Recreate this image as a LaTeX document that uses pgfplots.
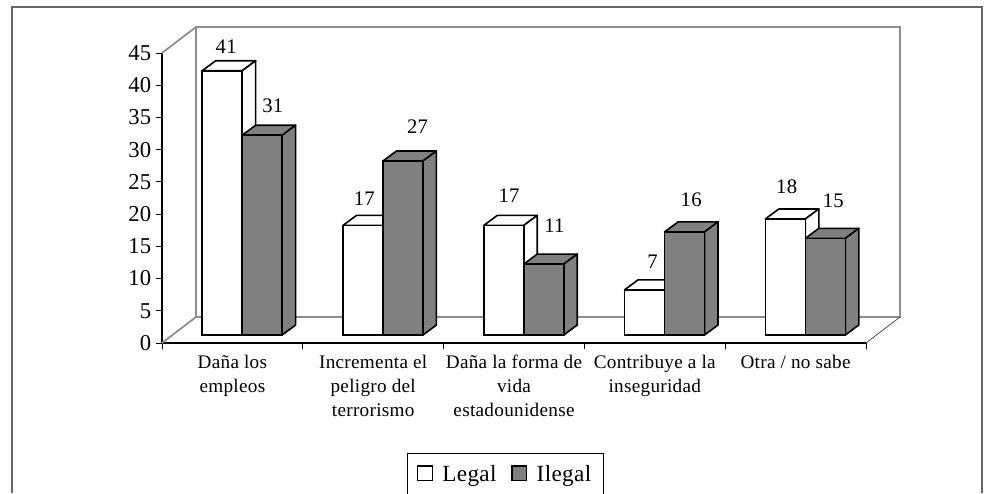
\documentclass[border=0pt]{standalone}
\usepackage{fontspec}
\setmainfont[LetterSpace=1.5]{Liberation Serif}
\usepackage{pgfplots}
\pgfplotsset{compat=1.18}

% 1 px of the reference = 0.75pt
\definecolor{barfill}{HTML}{808080}
\definecolor{wall}{HTML}{8C8C8C}

\newcommand{\depthfaces}[3]{%
  \pgfmathsetmacro{\xa}{#1}%
  \pgfmathsetmacro{\xb}{#1+0.2841}%
  \pgfmathsetmacro{\xc}{#1+0.0959}%
  \pgfmathsetmacro{\xd}{#1+0.38}%
  \pgfmathsetmacro{\vb}{#2+1.552}%
  \edef\dotop{\noexpand\addplot[forget plot,draw=black,line width=1.2pt,line join=round,fill=#3]
    coordinates {(\xa,#2) (\xc,\vb) (\xd,\vb) (\xb,#2)} -- cycle;}\dotop
  \edef\doside{\noexpand\addplot[forget plot,draw=black,line width=1.2pt,line join=round,fill=#3]
    coordinates {(\xb,0) (\xd,1.552) (\xd,\vb) (\xb,#2)} -- cycle;}\doside
}

\tikzset{vallabel/.style={font=\fontsize{15.5}{17}\selectfont}}

\begin{document}
\begin{tikzpicture}
\path[use as bounding box] (-121.5pt,-112.5pt) rectangle (624.75pt,257.25pt);

% axis with ticks and the walls
\begin{axis}[
  at={(0pt,0pt)}, anchor=south west,
  scale only axis, width=528pt, height=217.5pt,
  xmin=-0.5, xmax=4.5, ymin=0, ymax=45,
  axis x line=bottom, axis y line=left,
  axis line style={-,line width=0.8pt},
  tick align=outside, tick style={black,line width=0.7pt},
  major tick length=4.5pt,
  ytick={0,5,...,45},
  xtick={-0.5,0.5,1.5,2.5,3.5,4.5},
  x tick label as interval,
  xticklabels={Daña los\\empleos,Incrementa el\\peligro del\\terrorismo,Daña la forma de\\vida\\estadounidense,Contribuye a la\\inseguridad,Otra / no sabe},
  xticklabel style={align=center,font=\fontsize{14.4}{18}\selectfont,yshift=-1pt},
  yticklabel style={font=\fontsize{17}{17}\selectfont},
  /pgf/number format/assume math mode=true,
  clip=false,
]
\draw[wall,line width=1.3pt] (axis cs:-0.5,45) -- ++(25.5pt,19.5pt) -- ++(528pt,0pt) -- ++(0pt,-217.5pt) -- ++(-528pt,0pt) -- ++(0pt,217.5pt);
\draw[wall,line width=1.3pt] (axis cs:-0.5,0) -- ++(25.5pt,19.5pt);
\draw[black!70,line width=0.6pt] (axis cs:4.5,0) -- ++(25.5pt,19.5pt);
\end{axis}

% the bars, moved onto the floor
\begin{axis}[
  at={(0pt,0pt)}, anchor=south west, xshift=7.3pt, yshift=6pt,
  scale only axis, width=528pt, height=217.5pt,
  xmin=-0.5, xmax=4.5, ymin=0, ymax=45,
  hide axis, clip=false,
  legend columns=2,
  legend style={at={(0.474,-0.407)},anchor=north,draw=black,line width=0.8pt,
    font=\fontsize{17.4}{17}\selectfont,inner xsep=7pt,inner ysep=7pt,
    /tikz/every odd column/.style={column sep=5pt},
    /tikz/every even column/.style={column sep=9pt}},
  legend cell align=left,
  legend image code/.code={\draw[#1,line width=1.1pt] (0pt,-4.5pt) rectangle (11pt,6.5pt);},
]
\depthfaces{-0.2841}{41}{white}
\depthfaces{0.7159}{17}{white}
\depthfaces{1.7159}{17}{white}
\depthfaces{2.7159}{7}{white}
\depthfaces{3.7159}{18}{white}
\addplot[ybar,bar width=30pt,bar shift=-15pt,draw=black,line width=1.2pt,fill=white]
  coordinates {(0,41) (1,17) (2,17) (3,7) (4,18)};
\addlegendentry{Legal}
\depthfaces{0}{31}{barfill}
\depthfaces{1}{27}{barfill}
\depthfaces{2}{11}{barfill}
\depthfaces{3}{16}{barfill}
\depthfaces{4}{15}{barfill}
\addplot[ybar,bar width=30pt,bar shift=15pt,draw=black,line width=1.2pt,fill=barfill]
  coordinates {(0,31) (1,27) (2,11) (3,16) (4,15)};
\addlegendentry{Ilegal}

\node[vallabel] at ([shift={(3pt,18pt)}]axis cs:-0.142,41) {41};
\node[vallabel] at ([shift={(8pt,22pt)}]axis cs:0.142,31) {31};
\node[vallabel] at ([shift={(11pt,26pt)}]axis cs:1.142,27) {27};
\node[vallabel] at ([shift={(1pt,20pt)}]axis cs:0.858,17) {17};
\node[vallabel] at ([shift={(4pt,22pt)}]axis cs:1.858,17) {17};
\node[vallabel] at ([shift={(8pt,29pt)}]axis cs:2.142,11) {11};
\node[vallabel] at ([shift={(6pt,21pt)}]axis cs:2.858,7) {7};
\node[vallabel] at ([shift={(5pt,24pt)}]axis cs:3.142,16) {16};
\node[vallabel] at ([shift={(1pt,24pt)}]axis cs:3.858,18) {18};
\node[vallabel] at ([shift={(6pt,28pt)}]axis cs:4.142,15) {15};
\end{axis}

% outer frame, open at the bottom like the cropped source
\draw[black!60,line width=0.9pt] (-112.5pt,-112.5pt) -- (-112.5pt,252pt) -- (615pt,252pt) -- (615pt,-112.5pt);
\end{tikzpicture}
\end{document}
